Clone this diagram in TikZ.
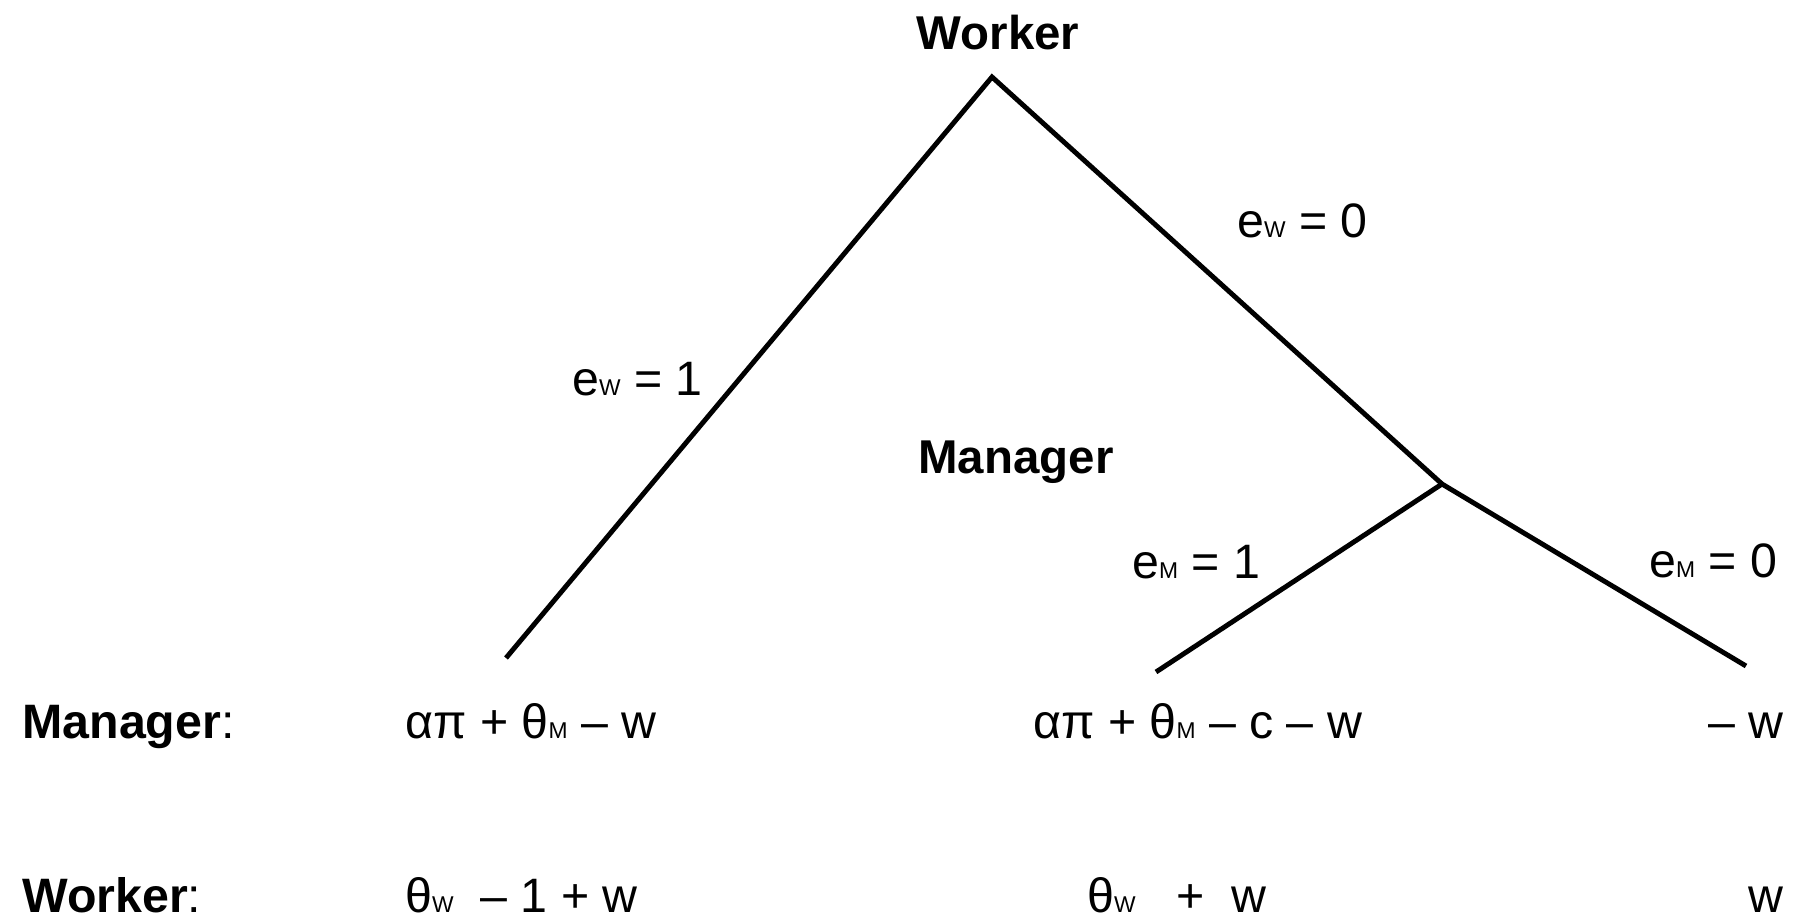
\documentclass[tikz,border=0pt]{standalone}
\usepackage{fontspec}
\setmainfont{Liberation Sans}
\newcommand{\smallsub}[1]{{\fontsize{13}{13}\selectfont #1}}
\tikzset{
  lbl/.style={inner sep=0pt, font=\fontsize{27.5}{30}\selectfont},
  player/.style={inner sep=0pt, font=\fontsize{27}{30}\selectfont\bfseries},
  branch/.style={line width=2.8pt}
}
\begin{document}
\begin{tikzpicture}
\useasboundingbox (0,0) rectangle (35.9,-18.42);
% tree points
\coordinate (root) at (19.84,-1.54);
\coordinate (left) at (10.12,-13.16);
\coordinate (mgr) at (28.84,-9.68);
\coordinate (mid) at (23.12,-13.44);
\coordinate (right) at (34.92,-13.32);
\draw[branch] (left) -- (root) -- (mgr);
\draw[branch] (mid) -- (mgr) -- (right);
% players
\node[player, anchor=base] (topw) at (19.96,-1.0) {Worker};
\node[player, anchor=base] (midm) at (20.32,-9.46) {Manager};
% branch labels
\node[lbl, anchor=base west] (ew1) at (11.44,-7.9) {e\smallsub{W} = 1};
\node[lbl, anchor=base west] (ew0) at (24.74,-4.74) {e\smallsub{W} = 0};
\node[lbl, anchor=base west] (em1) at (22.64,-11.56) {e\smallsub{M} = 1};
\node[lbl, anchor=base east] (em0) at (35.55,-11.54) {e\smallsub{M} = 0};
% payoffs
\node[lbl, anchor=base west] (rowm) at (0.44,-14.76) {\textbf{Manager}:};
\node[lbl, anchor=base west] (roww) at (0.44,-18.24) {\textbf{Worker}:};
\node[lbl, anchor=base west] (pm1) at (8.1,-14.76) {απ + θ\smallsub{M} – w};
\node[lbl, anchor=base west] (pw1) at (8.1,-18.24) {θ\smallsub{W}\ \ – 1 + w};
\node[lbl, anchor=base west] (pm2) at (20.66,-14.76) {απ + θ\smallsub{M} – c – w};
\node[lbl, anchor=base west] (pw2) at (21.74,-18.24) {θ\smallsub{W}\ \ \ +\ \ w};
\node[lbl, anchor=base east] (pm3) at (35.68,-14.76) {– w};
\node[lbl, anchor=base east] (pw3) at (35.68,-18.24) {w};
\end{tikzpicture}
\end{document}
